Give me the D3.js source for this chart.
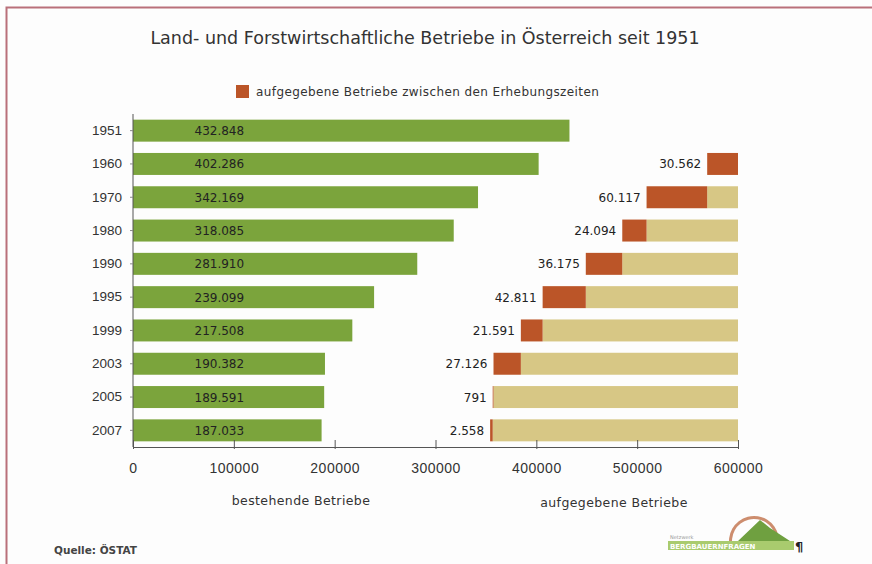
<!DOCTYPE html>
<html>
<head>
<meta charset="utf-8">
<script src="https://cdn.jsdelivr.net/npm/d3@7"></script>
<style>
  body { margin: 0; background: #fdfdfd; }
  svg { display: block; font-family: "DejaVu Sans", "Liberation Sans", sans-serif; }
</style>
</head>
<body>
<svg id="chart" width="872" height="564"></svg>
<script>
const years = ["1951", "1960", "1970", "1980", "1990", "1995", "1999", "2003", "2005", "2007"];
const existing = [432848, 402286, 342169, 318085, 281910, 239099, 217508, 190382, 189591, 187033];
// given up between survey dates (none for the first survey)
const givenUp = [0, 30562, 60117, 24094, 36175, 42811, 21591, 27126, 791, 2558];
const labelsExisting = ["432.848", "402.286", "342.169", "318.085", "281.910", "239.099", "217.508", "190.382", "189.591", "187.033"];
const labelsGivenUp = ["", "30.562", "60.117", "24.094", "36.175", "42.811", "21.591", "27.126", "791", "2.558"];
const ticks = [0, 100000, 200000, 300000, 400000, 500000, 600000];

const green = "#7ba43c", brown = "#bb5528", beige = "#d7c785", txt = "#333";

const svg = d3.select("#chart");

// frame
svg.append("path")
  .attr("d", "M6.5,570 L6.5,7.5 L880,7.5")
  .attr("fill", "none").attr("stroke", "#b9707a").attr("stroke-width", 2);

const x = d3.scaleLinear().domain([0, 600000]).range([133, 738]);
const y = d3.scaleBand().domain(years).range([114, 447]).paddingInner(0.34).paddingOuter(0.17);

svg.append("text").attr("x", 425).attr("y", 44).attr("text-anchor", "middle")
  .attr("font-size", 17.5).attr("fill", txt)
  .text("Land- und Forstwirtschaftliche Betriebe in Österreich seit 1951");

// legend
svg.append("rect").attr("x", 236).attr("y", 85).attr("width", 13).attr("height", 13).attr("fill", brown);
svg.append("text").attr("x", 256).attr("y", 96).attr("font-size", 12).attr("letter-spacing", 0.4).attr("fill", txt)
  .text("aufgegebene Betriebe zwischen den Erhebungszeiten");

// existing farms
svg.append("g").selectAll("rect").data(years).join("rect")
  .attr("x", x(0)).attr("y", d => y(d))
  .attr("width", (d, i) => x(existing[i]) - x(0)).attr("height", y.bandwidth())
  .attr("fill", green);

svg.append("g").selectAll("text").data(years).join("text")
  .attr("x", x(61000)).attr("y", d => y(d) + y.bandwidth() / 2 + 4.5)
  .attr("font-size", 12).attr("fill", "#222")
  .text((d, i) => labelsExisting[i]);

// cumulative given up, drawn back from the right end of the axis
const cum = [];
givenUp.reduce((s, v) => { cum.push(s); return s + v; }, 0);

const right = svg.append("g");
years.forEach((yr, i) => {
  if (i === 0) return;
  const before = cum[i], now = cum[i] + givenUp[i];
  right.append("rect").attr("x", x(600000 - before)).attr("y", y(yr))
    .attr("width", x(600000) - x(600000 - before)).attr("height", y.bandwidth()).attr("fill", beige);
  right.append("rect").attr("x", x(600000 - now)).attr("y", y(yr))
    .attr("width", x(600000 - before) - x(600000 - now)).attr("height", y.bandwidth()).attr("fill", brown);
  right.append("text").attr("x", x(600000 - now) - 6).attr("y", y(yr) + y.bandwidth() / 2 + 4.5)
    .attr("text-anchor", "end").attr("font-size", 12).attr("fill", "#222")
    .text(labelsGivenUp[i]);
});

// axes
const xAxis = d3.axisBottom(x).tickValues(ticks).tickSize(0).tickPadding(16).tickFormat(d3.format("d"));
const gx = svg.append("g").attr("transform", "translate(0,447)").call(xAxis);
gx.select(".domain").attr("stroke", "#555");
gx.selectAll(".tick line").attr("y1", -7).attr("y2", 2).attr("stroke", "#555");
gx.selectAll(".tick text").attr("font-size", 14).attr("letter-spacing", 0.5).attr("fill", txt).attr("font-family", "inherit");

const yAxis = d3.axisLeft(y).tickSize(3).tickPadding(8);
const gy = svg.append("g").attr("transform", "translate(133,0)").call(yAxis);
gy.select(".domain").attr("stroke", "#555").attr("d", "M0,114V447");
gy.selectAll(".tick line").attr("stroke", "#888");
gy.selectAll(".tick text").attr("font-size", 13.5).attr("fill", txt).attr("font-family", "inherit");

svg.append("text").attr("x", 301).attr("y", 505).attr("text-anchor", "middle")
  .attr("font-size", 12.5).attr("letter-spacing", 0.4).attr("fill", txt).text("bestehende Betriebe");
svg.append("text").attr("x", 614).attr("y", 507).attr("text-anchor", "middle")
  .attr("font-size", 12.5).attr("letter-spacing", 0.4).attr("fill", txt).text("aufgegebene Betriebe");

svg.append("text").attr("x", 54).attr("y", 554).attr("font-size", 10.5).attr("font-weight", "bold")
  .attr("fill", "#444").text("Quelle: ÖSTAT");

// little logo
const logo = svg.append("g");
logo.append("path").attr("d", d3.arc()({ innerRadius: 22, outerRadius: 25, startAngle: -Math.PI / 2 - 0.3, endAngle: Math.PI / 2 - 0.2 }))
  .attr("transform", "translate(754,541)").attr("fill", "#c0704a").attr("opacity", 0.8);
logo.append("path").attr("d", "M738,541 L760,520 L770,528 L790,541 Z").attr("fill", "#6fa040");
logo.append("rect").attr("x", 668).attr("y", 541).attr("width", 126).attr("height", 9).attr("fill", "#a9cb6e");
logo.append("text").attr("x", 670).attr("y", 549).attr("font-size", 7).attr("font-weight", "bold")
  .attr("fill", "#ffffff").text("BERGBAUERNFRAGEN");
logo.append("text").attr("x", 670).attr("y", 539).attr("font-size", 5).attr("fill", "#999").text("Netzwerk");
logo.append("text").attr("x", 795).attr("y", 551).attr("font-size", 13).attr("font-weight", "bold").attr("fill", "#222").text("¶");
</script>
</body>
</html>
